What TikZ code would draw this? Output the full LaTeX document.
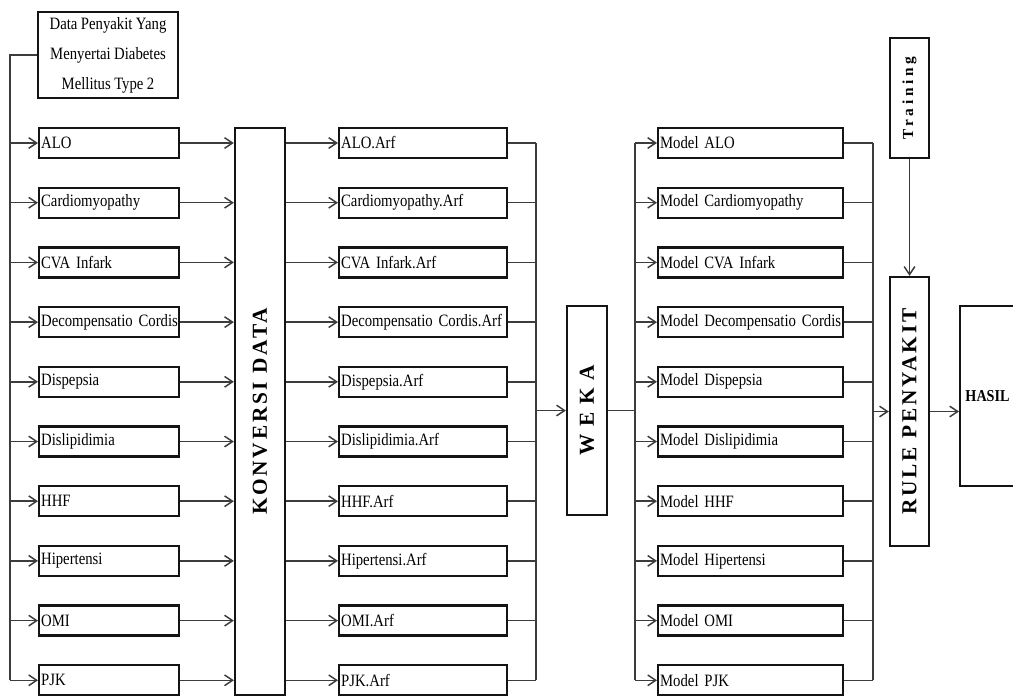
\documentclass[tikz,border=0pt]{standalone}
\usepackage{fontspec}
\usepackage{graphicx}
\setmainfont{Liberation Serif}[FakeStretch=0.85]
\newfontfamily\kdfont{Liberation Serif}[LetterSpace=13]
\newfontfamily\wekafont{Liberation Serif}[LetterSpace=36]
\newfontfamily\trainfont{Liberation Serif}[LetterSpace=24]
\usetikzlibrary{arrows.meta, positioning, calc}
\definecolor{boxline}{RGB}{20, 20, 20}
\definecolor{linkgray}{RGB}{60, 60, 60}
\newcommand\labelfont{\fontsize{13}{15}\selectfont\fontdimen2\font=2.6pt\relax}
\newcommand\datafont{\fontsize{13}{22.5}\selectfont\fontdimen2\font=2.6pt\relax}
\tikzset{
  itembox/.style={draw=boxline, line width=1.7pt, anchor=west, minimum height=22.5pt,
                  inner xsep=1.5pt, inner ysep=0pt, align=left, font=\labelfont},
  sakitbox/.style={itembox, text width=102pt},
  arfbox/.style={itembox, text width=123pt},
  modelbox/.style={itembox, text width=135.75pt},
  tallbox/.style={draw=boxline, line width=1.7pt, inner sep=0pt},
  link/.style={draw=linkgray, line width=1.1pt},
  arrowlink/.style={link, -{Straight Barb[length=6pt,width=8pt]}}
}

\begin{document}
\begin{tikzpicture}[x=0.75pt, y=-0.75pt]
    \useasboundingbox (0,0) rectangle (1013,696);

    \node[tallbox, minimum width=105pt, minimum height=64.5pt, align=center,
          font=\datafont] (data) at (108,55)
          {Data Penyakit Yang\\Menyertai Diabetes\\Mellitus Type 2};
    \node[tallbox, minimum width=37.5pt, minimum height=425pt] (konversi) at (260,411.5)
          {\rotatebox{90}{\fontsize{16}{18}\kdfont\bfseries KONVERSI DATA}};
    \node[tallbox, minimum width=30pt, minimum height=156.75pt] (weka) at (587,410.5)
          {\rotatebox{90}{\fontsize{16}{18}\wekafont\bfseries WEKA}};
    \node[tallbox, minimum width=29.25pt, minimum height=90pt] (training) at (909.5,98)
          {\rotatebox{90}{\fontsize{11.5}{13}\trainfont\bfseries Training}};
    \node[tallbox, minimum width=29.25pt, minimum height=201.75pt] (rule) at (909.5,411.5)
          {\rotatebox{90}{\fontsize{16}{18}\kdfont\bfseries RULE PENYAKIT}};
    \node[tallbox, anchor=west, minimum height=135pt, inner xsep=4pt, text width=60pt,
          align=left, font=\fontsize{12.5}{15}\selectfont\bfseries] (hasil) at (959,396) {HASIL};

    \coordinate (trunk) at (10,0);
    \coordinate (arfbus) at (536,0);
    \coordinate (modbus) at (635,0);
    \coordinate (rulebus) at (873,0);

    % satu baris per penyakit
    \foreach \nm/\txt [count=\i from 0] in {alo/ALO, cardio/Cardiomyopathy, cva/CVA Infark,
        decomp/Decompensatio Cordis, dispepsia/Dispepsia, dislip/Dislipidimia, hhf/HHF,
        hiper/Hipertensi, omi/OMI, pjk/PJK} {
        \pgfmathsetmacro\yy{143+59.7*\i}
        \node[sakitbox] (\nm) at (38,\yy) {\mbox{\txt}};
        \node[arfbox] (\nm-arf) at (338,\yy) {\mbox{\txt.Arf}};
        \node[modelbox] (\nm-mod) at (657,\yy) {\mbox{Model \txt}};
        \draw[arrowlink] (trunk |- \nm.west) -- (\nm.west);
        \draw[arrowlink] (\nm.east) -- (\nm.east -| konversi.west);
        \draw[arrowlink] (\nm.east -| konversi.east) -- (\nm-arf.west);
        \draw[link] (\nm-arf.east) -- (\nm-arf.east -| arfbus);
        \draw[arrowlink] (\nm-mod.west -| modbus) -- (\nm-mod.west);
        \draw[link] (\nm-mod.east) -- (\nm-mod.east -| rulebus);
    }

    \draw[link] (data.west) -| (trunk |- pjk.west);
    \draw[link] (arfbus |- alo-arf.east) -- (arfbus |- pjk-arf.east);
    \draw[arrowlink] (arfbus |- weka.west) -- (weka.west);
    \draw[link] (weka.east) -- (weka.east -| modbus);
    \draw[link] (modbus |- alo-mod.west) -- (modbus |- pjk-mod.west);
    \draw[link] (rulebus |- alo-mod.east) -- (rulebus |- pjk-mod.east);
    \draw[arrowlink] (rulebus |- rule.west) -- (rule.west);
    \draw[arrowlink] (training.south) -- (rule.north);
    \draw[arrowlink] (rule.east) -- (rule.east -| hasil.west);
\end{tikzpicture}
\end{document}
